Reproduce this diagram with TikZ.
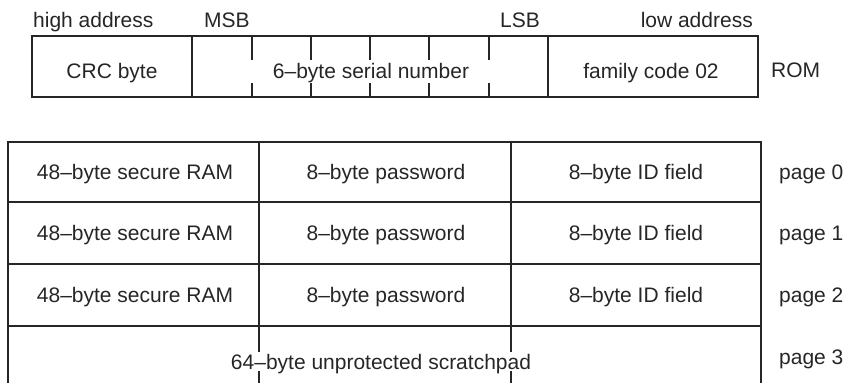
\documentclass[tikz,border=0pt]{standalone}
\usepackage{fontspec}
\setmainfont{Liberation Sans}
\begin{document}
\begin{tikzpicture}[x=1pt,y=-1pt,
  ln/.style={line width=1.2pt, draw=black!85},
  lbl/.style={inner sep=0pt, text=black!85, font=\fontsize{21}{24}\selectfont}]
\useasboundingbox (0,0) rectangle (849,383);
% header labels
\node[lbl, anchor=base west] (hi) at (33,27) {high address};
\node[lbl, anchor=base west] (msb) at (204,27) {MSB};
\node[lbl, anchor=base west] (lsb) at (500,27) {LSB};
\node[lbl, anchor=base east] (lo) at (753,27) {low address};
% ROM box
\draw[ln] (32,36) rectangle (758,97);
\draw[ln] (192,36) -- (192,97);
\draw[ln] (548,36) -- (548,97);
\foreach \x in {252,311,370,429,489}{
  \draw[ln] (\x,36) -- (\x,60);
  \draw[ln] (\x,83) -- (\x,97);
}
\node[lbl, anchor=base] (crc) at (112,78) {CRC byte};
\node[lbl, anchor=base] (ser) at (371,78) {6–byte serial number};
\node[lbl, anchor=base] (fam) at (651,78) {family code 02};
\node[lbl, anchor=base west] (rom) at (771,77) {ROM};
% RAM table
\draw[ln] (8,383) -- (8,142) -- (761,142) -- (761,383);
\foreach \y in {202,264,326}{ \draw[ln] (8,\y) -- (761,\y); }
\draw[ln] (259,142) -- (259,326);
\draw[ln] (511,142) -- (511,326);
\foreach \x in {259,511}{
  \draw[ln] (\x,326) -- (\x,352);
  \draw[ln] (\x,371) -- (\x,383);
}
\foreach \y/\n in {179/0,240/1,302/2}{
  \node[lbl, anchor=base] (ram\n) at (135,\y) {48–byte secure RAM};
  \node[lbl, anchor=base] (pw\n) at (386,\y) {8–byte password};
  \node[lbl, anchor=base] (id\n) at (636,\y) {8–byte ID field};
  \node[lbl, anchor=base west] (pg\n) at (779,\y) {page \n};
}
\node[lbl, anchor=base] (scr) at (381,369) {64–byte unprotected scratchpad};
\node[lbl, anchor=base west] (pg3) at (779,364) {page 3};
\end{tikzpicture}
\end{document}
